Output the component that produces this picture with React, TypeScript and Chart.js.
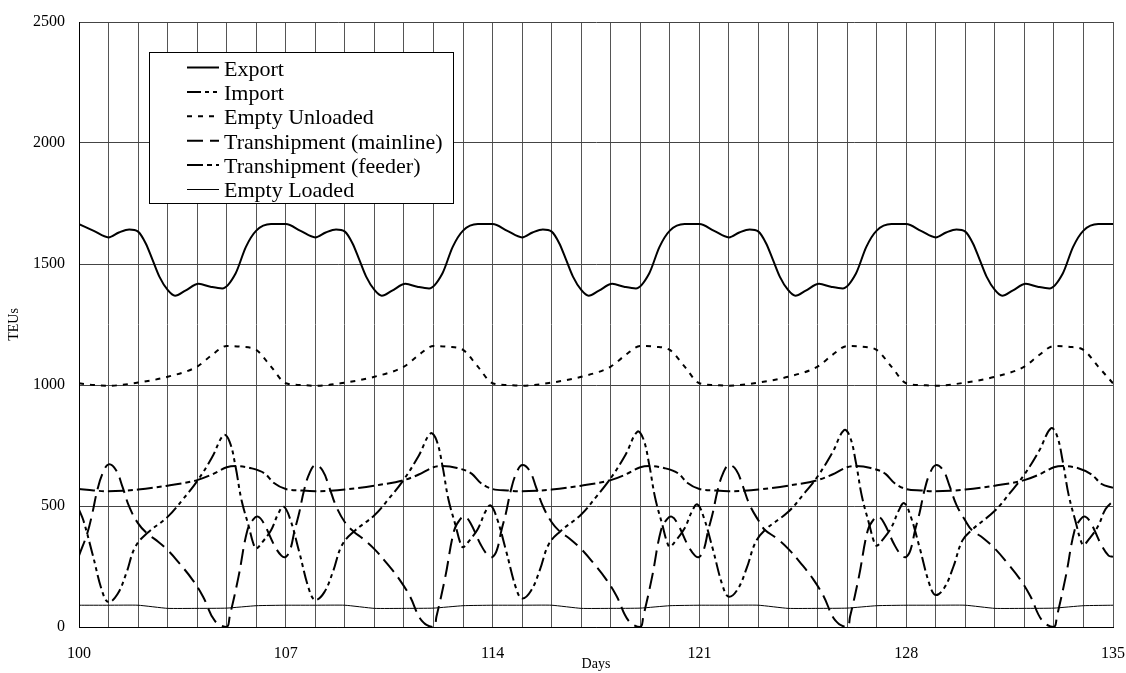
import React, { useEffect, useRef } from 'react';
import { Chart, registerables } from 'chart.js';

Chart.register(...registerables);

const FONT = '"Liberation Serif", "Times New Roman", Times, serif';

const xTickLabels = [100, 107, 114, 121, 128, 135];
const yTickValues = [0, 500, 1000, 1500, 2000, 2500];
const seriesNames = ['Export', 'Import', 'Empty Unloaded', 'Transhipment (mainline)', 'Transhipment (feeder)', 'Empty Loaded'];

const exportPts: [number, number][] = [
  [100, 1665], [100.5, 1637], [101, 1610], [101.35, 1630], [101.7, 1643], [102, 1634], [102.26, 1585], [102.49, 1517], [102.72, 1448], [103, 1393], [103.25, 1369], [103.6, 1390], [104.05, 1418], [104.45, 1406], [104.85, 1399], [105.3, 1461], [105.65, 1571], [106, 1638], [106.5, 1665],
  [107, 1665], [107.5, 1637], [108, 1610], [108.35, 1630], [108.7, 1643], [109, 1634], [109.26, 1585], [109.49, 1517], [109.72, 1448], [110, 1393], [110.25, 1369], [110.6, 1390], [111.05, 1418], [111.45, 1406], [111.85, 1399], [112.3, 1461], [112.65, 1571], [113, 1638], [113.5, 1665],
  [114, 1665], [114.5, 1637], [115, 1610], [115.35, 1630], [115.7, 1643], [116, 1634], [116.26, 1585], [116.49, 1517], [116.72, 1448], [117, 1393], [117.25, 1369], [117.6, 1390], [118.05, 1418], [118.45, 1406], [118.85, 1399], [119.3, 1461], [119.65, 1571], [120, 1638], [120.5, 1665],
  [121, 1665], [121.5, 1637], [122, 1610], [122.35, 1630], [122.7, 1643], [123, 1634], [123.26, 1585], [123.49, 1517], [123.72, 1448], [124, 1393], [124.25, 1369], [124.6, 1390], [125.05, 1418], [125.45, 1406], [125.85, 1399], [126.3, 1461], [126.65, 1571], [127, 1638], [127.5, 1665],
  [128, 1665], [128.5, 1637], [129, 1610], [129.35, 1630], [129.7, 1643], [130, 1634], [130.26, 1585], [130.49, 1517], [130.72, 1448], [131, 1393], [131.25, 1369], [131.6, 1390], [132.05, 1418], [132.45, 1406], [132.85, 1399], [133.3, 1461], [133.65, 1571], [134, 1638], [134.5, 1665], [135, 1665],
];

const importPts: [number, number][] = [
  [100, 485], [100.15, 440], [100.45, 305], [100.8, 142], [101, 103], [101.3, 135], [101.6, 222], [101.9, 330], [102.3, 387], [103, 455], [103.5, 525], [104, 603], [104.5, 700], [104.9, 793], [105.1, 765], [105.3, 662], [105.5, 525], [105.75, 414], [105.9, 345], [106, 325], [106.2, 350], [106.5, 400], [106.75, 470], [106.93, 497],
  [107.15, 445], [107.45, 312], [107.8, 150], [108, 112], [108.3, 143], [108.6, 230], [108.9, 338], [109.3, 394], [110, 462], [110.5, 532], [111, 610], [111.5, 708], [111.9, 800], [112.1, 772], [112.3, 668], [112.5, 530], [112.75, 418], [112.9, 350], [113, 330], [113.2, 355], [113.5, 405], [113.75, 475], [113.93, 503],
  [114.15, 448], [114.45, 318], [114.8, 158], [115, 118], [115.3, 150], [115.6, 236], [115.9, 342], [116.28, 394], [117, 465], [117.5, 537], [118, 615], [118.5, 712], [118.9, 807], [119.1, 778], [119.3, 672], [119.5, 535], [119.75, 420], [119.9, 352], [120, 332], [120.2, 357], [120.5, 408], [120.75, 478], [120.93, 507],
  [121.15, 452], [121.45, 324], [121.8, 165], [122, 125], [122.3, 157], [122.6, 243], [122.9, 350], [123.22, 401], [124, 475], [124.5, 545], [125, 622], [125.5, 720], [125.9, 814], [126.1, 785], [126.3, 678], [126.5, 540], [126.75, 424], [126.9, 356], [127, 336], [127.2, 360], [127.5, 412], [127.75, 482], [127.93, 512],
  [128.15, 458], [128.45, 330], [128.8, 172], [129, 132], [129.3, 164], [129.6, 250], [129.9, 357], [130.22, 401], [131, 480], [131.5, 552], [132, 630], [132.5, 728], [132.9, 821], [133.1, 792], [133.3, 684], [133.5, 545], [133.75, 428], [133.9, 360], [134, 340], [134.2, 365], [134.5, 418], [134.75, 488], [135, 520],
];

const emptyUnloadedPts: [number, number][] = [
  [100, 1007], [100.5, 1000], [101, 997], [102, 1010], [103, 1034], [104, 1076], [104.5, 1124], [105, 1161], [105.5, 1158], [106, 1145], [106.5, 1076],
  [107, 1007], [107.5, 1000], [108, 997], [109, 1010], [110, 1034], [111, 1076], [111.5, 1124], [112, 1161], [112.5, 1158], [113, 1145], [113.5, 1076],
  [114, 1007], [114.5, 1000], [115, 997], [116, 1010], [117, 1034], [118, 1076], [118.5, 1124], [119, 1161], [119.5, 1158], [120, 1145], [120.5, 1076],
  [121, 1007], [121.5, 1000], [122, 997], [123, 1010], [124, 1034], [125, 1076], [125.5, 1124], [126, 1161], [126.5, 1158], [127, 1145], [127.5, 1076],
  [128, 1007], [128.5, 1000], [129, 997], [130, 1010], [131, 1034], [132, 1076], [132.5, 1124], [133, 1161], [133.5, 1158], [134, 1145], [134.5, 1076], [135, 1007],
];

const tsMainlinePts: [number, number][] = [
  [100, 295], [100.28, 387], [100.45, 469], [100.62, 566], [100.8, 635], [101, 672], [101.25, 649], [101.47, 580], [101.7, 497], [102, 428], [102.3, 387], [102.6, 360], [103, 318], [103.4, 263], [103.85, 194], [104.2, 125], [104.6, 25], [105, 0], [105.1, 43], [105.4, 208], [105.7, 400], [105.9, 445], [106.06, 456], [106.25, 430], [106.6, 340], [106.85, 295], [107, 290], [107.15, 320], [107.3, 400],
  [107.45, 470], [107.62, 566], [107.8, 635], [108, 669], [108.25, 646], [108.47, 578], [108.7, 500], [109, 433], [109.3, 394], [109.6, 366], [110, 322], [110.4, 266], [110.85, 196], [111.2, 127], [111.6, 26], [112, 0], [112.1, 43], [112.4, 208], [112.7, 400], [112.9, 445], [113.06, 456], [113.25, 430], [113.6, 340], [113.85, 295], [114, 290], [114.15, 320], [114.3, 400],
  [114.45, 470], [114.62, 566], [114.8, 635], [115, 669], [115.25, 646], [115.47, 578], [115.7, 500], [116, 433], [116.28, 394], [116.6, 366], [117, 322], [117.4, 266], [117.85, 196], [118.2, 127], [118.6, 26], [119, 0], [119.1, 43], [119.4, 208], [119.7, 400], [119.9, 445], [120.06, 456], [120.25, 430], [120.6, 340], [120.85, 295], [121, 290], [121.15, 320], [121.3, 400],
  [121.45, 470], [121.62, 566], [121.8, 635], [122, 669], [122.25, 648], [122.47, 582], [122.7, 505], [123, 440], [123.22, 401], [123.6, 368], [124, 324], [124.4, 268], [124.85, 198], [125.2, 128], [125.6, 27], [126, 0], [126.1, 43], [126.4, 208], [126.7, 400], [126.9, 445], [127.06, 456], [127.25, 430], [127.6, 340], [127.85, 295], [128, 290], [128.15, 320], [128.3, 400],
  [128.45, 470], [128.62, 566], [128.8, 635], [129, 669], [129.25, 648], [129.47, 582], [129.7, 505], [130, 440], [130.22, 401], [130.6, 368], [131, 324], [131.4, 268], [131.85, 198], [132.2, 128], [132.6, 27], [133, 0], [133.1, 43], [133.4, 208], [133.7, 400], [133.9, 445], [134.06, 456], [134.25, 430], [134.6, 340], [134.85, 295], [135, 290],
];

const tsFeederPts: [number, number][] = [
  [100, 570], [100.5, 564], [101, 561], [101.5, 563], [102, 568], [103, 584], [104, 607], [104.5, 630], [105, 660], [105.3, 665], [105.8, 657], [106.3, 633], [106.6, 595],
  [107, 570], [107.5, 564], [108, 561], [108.5, 563], [109, 568], [110, 584], [111, 607], [111.5, 630], [112, 660], [112.3, 665], [112.8, 657], [113.3, 633], [113.6, 595],
  [114, 570], [114.5, 564], [115, 561], [115.5, 563], [116, 568], [117, 584], [118, 607], [118.5, 630], [119, 660], [119.3, 665], [119.8, 657], [120.3, 633], [120.6, 595],
  [121, 570], [121.5, 564], [122, 561], [122.5, 563], [123, 568], [124, 584], [125, 607], [125.5, 630], [126, 660], [126.3, 665], [126.8, 657], [127.3, 633], [127.6, 595],
  [128, 570], [128.5, 564], [129, 561], [129.5, 563], [130, 568], [131, 584], [132, 607], [132.5, 630], [133, 660], [133.3, 665], [133.8, 657], [134.3, 628], [134.6, 592], [135, 575],
];

const emptyLoadedPts: [number, number][] = [
  [100, 90], [101, 90], [102, 90], [103, 77], [104, 77], [105, 78], [106, 88],
  [107, 90], [108, 90], [109, 90], [110, 77], [111, 77], [112, 78], [113, 88],
  [114, 90], [115, 90], [116, 90], [117, 77], [118, 77], [119, 78], [120, 88],
  [121, 90], [122, 90], [123, 90], [124, 77], [125, 77], [126, 78], [127, 88],
  [128, 90], [129, 90], [130, 90], [131, 77], [132, 77], [133, 78], [134, 88], [135, 90],
];

const toXY = (pts: [number, number][]) => pts.map(([x, y]) => ({ x, y }));

const boxLegend = {
  id: 'boxLegend',
  afterDraw(chart: any) {
    const { ctx } = chart;
    const left = 149;
    const top = 52;
    const bottom = 203;
    const lineX0 = 187;
    const lineX1 = 219;
    const textX = 224;
    ctx.save();
    ctx.font = `22px ${FONT}`;
    const ds = chart.data.datasets;
    let maxW = 0;
    ds.forEach((d: any) => {
      maxW = Math.max(maxW, ctx.measureText(d.label).width);
    });
    const right = Math.round(textX + maxW + 10);
    ctx.fillStyle = '#fff';
    ctx.fillRect(left, top, right - left, bottom - top);
    ctx.strokeStyle = '#000';
    ctx.lineWidth = 1;
    ctx.setLineDash([]);
    ctx.strokeRect(left + 0.5, top + 0.5, right - left, bottom - top);
    ds.forEach((d: any, i: number) => {
      const y = 67.5 + i * 24.4;
      ctx.beginPath();
      ctx.lineWidth = d.borderWidth;
      ctx.setLineDash(d.borderDash || []);
      ctx.moveTo(lineX0, y);
      ctx.lineTo(lineX1, y);
      ctx.stroke();
      ctx.setLineDash([]);
      ctx.fillStyle = '#000';
      ctx.textBaseline = 'alphabetic';
      ctx.textAlign = 'left';
      ctx.fillText(d.label, textX, 76 + i * 24.2);
    });
    ctx.restore();
  },
};

export default function App() {
  const ref = useRef<HTMLCanvasElement | null>(null);

  useEffect(() => {
    if (!ref.current) return;
    const common = { borderColor: '#000', pointRadius: 0, fill: false };
    const chart = new Chart(ref.current, {
      type: 'line',
      data: {
        datasets: [
          { ...common, label: seriesNames[0], data: toXY(exportPts), borderWidth: 2, cubicInterpolationMode: 'monotone' },
          { ...common, label: seriesNames[1], data: toXY(importPts), borderWidth: 2, borderDash: [14, 4, 4, 4, 4, 4], tension: 0.4 },
          { ...common, label: seriesNames[2], data: toXY(emptyUnloadedPts), borderWidth: 2, borderDash: [5, 6], cubicInterpolationMode: 'monotone' },
          { ...common, label: seriesNames[3], data: toXY(tsMainlinePts), borderWidth: 2, borderDash: [16, 7], tension: 0.4 },
          { ...common, label: seriesNames[4], data: toXY(tsFeederPts), borderWidth: 2, borderDash: [16, 4, 5, 4], cubicInterpolationMode: 'monotone' },
          { ...common, label: seriesNames[5], data: toXY(emptyLoadedPts), borderWidth: 1, tension: 0.15 },
        ] as any,
      },
      options: {
        animation: false,
        responsive: false,
        maintainAspectRatio: false,
        devicePixelRatio: 1,
        layout: { padding: { left: 0, right: 13, top: 22, bottom: 0 } },
        plugins: { legend: { display: false }, tooltip: { enabled: false } },
        scales: {
          x: {
            type: 'linear',
            min: 100,
            max: 135,
            afterFit: (s: any) => { s.height = 46; s.paddingRight = 0; s.paddingLeft = 0; },
            ticks: {
              stepSize: 1,
              autoSkip: false,
              maxRotation: 0,
              padding: 17,
              color: '#000',
              font: { family: FONT, size: 16 },
              callback: (v: any) => (xTickLabels.includes(Number(v)) ? String(v) : ''),
            },
            grid: { color: '#555', lineWidth: 1, drawTicks: false, tickLength: 0 },
            border: { color: '#000', width: 1 },
            title: { display: true, text: 'Days', color: '#000', font: { family: FONT, size: 14 }, padding: { top: 0, bottom: 0 } },
          },
          y: {
            type: 'linear',
            min: yTickValues[0],
            max: yTickValues[yTickValues.length - 1],
            afterFit: (s: any) => { s.width = 79; s.paddingTop = 0; s.paddingBottom = 0; },
            ticks: {
              stepSize: 500,
              padding: 14,
              color: '#000',
              font: { family: FONT, size: 16 },
              callback: (v: any) => (yTickValues.includes(Number(v)) ? String(v) : ''),
            },
            grid: { color: '#444', lineWidth: 1, drawTicks: false, tickLength: 0 },
            border: { color: '#000', width: 1 },
            title: { display: true, text: 'TEUs', color: '#000', font: { family: FONT, size: 14 }, padding: { top: 6, bottom: 0 } },
          },
        },
      } as any,
      plugins: [boxLegend],
    });
    return () => chart.destroy();
  }, []);

  return (
    <div style={{ position: 'absolute', left: 0, top: 0, width: 1126, height: 673, background: '#fff' }}>
      <canvas ref={ref} width={1126} height={673} style={{ display: 'block' }} />
    </div>
  );
}
